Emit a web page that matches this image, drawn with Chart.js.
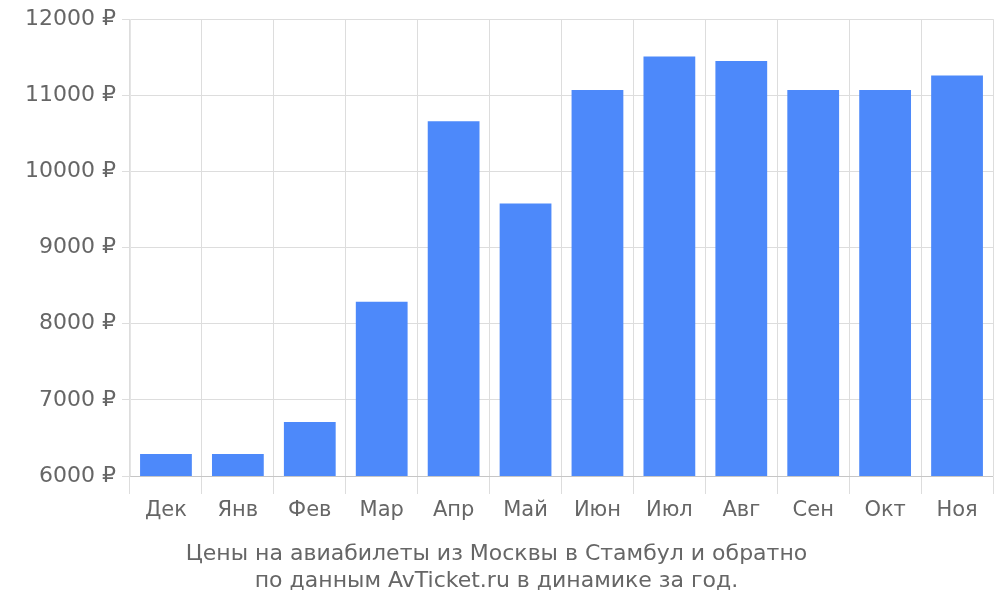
<!DOCTYPE html>
<html>
<head>
<meta charset="utf-8">
<script src="https://cdn.jsdelivr.net/npm/chart.js@4"></script>
<style>
  body { margin: 0; background: #fff; }
  #wrap { width: 1000px; height: 600px; }
</style>
</head>
<body>
<div id="wrap"><canvas id="chart"></canvas></div>
<script>
// Данные с картинки (цены в рублях)
const months = ['Дек', 'Янв', 'Фев', 'Мар', 'Апр', 'Май', 'Июн', 'Июл', 'Авг', 'Сен', 'Окт', 'Ноя'];
const prices = [6290, 6290, 6710, 8290, 10660, 9580, 11070, 11510, 11450, 11070, 11070, 11260];
const captionLines = ['Цены на авиабилеты из Москвы в Стамбул и обратно', 'по данным AvTicket.ru в динамике за год.'];

Chart.defaults.font.family = 'DejaVu Sans';
Chart.defaults.color = '#666';

new Chart(document.getElementById('chart'), {
    type: 'bar',
    data: {
        labels: months,
        datasets: [{ data: prices, backgroundColor: '#4d89fa', barPercentage: 0.72, categoryPercentage: 1 }]
    },
    options: {
        responsive: true, maintainAspectRatio: false, animation: false,
        layout: { padding: { top: 5, right: 7, left: 0, bottom: 6 } },
        plugins: {
            legend: { display: false }, tooltip: { enabled: false },
            title: { display: true, position: 'bottom', text: captionLines, font: { size: 22, weight: 'normal' }, color: '#666', padding: { top: 14, bottom: 0 }, lineHeight: 1.2 }
        },
        scales: {
            x: {
                grid: { color: '#ddd', tickLength: 18, offset: true },
                ticks: { font: { size: 21 }, padding: 4 }
            },
            y: {
                min: 6000, max: 12000,
                afterFit: s => { s.width = 130; },
                grid: { color: '#ddd', tickLength: 8 },
                ticks: { stepSize: 1000, font: { size: 22 }, padding: 6, callback: v => v + ' ₽' }
            }
        }
    }
});
</script>
</body>
</html>
